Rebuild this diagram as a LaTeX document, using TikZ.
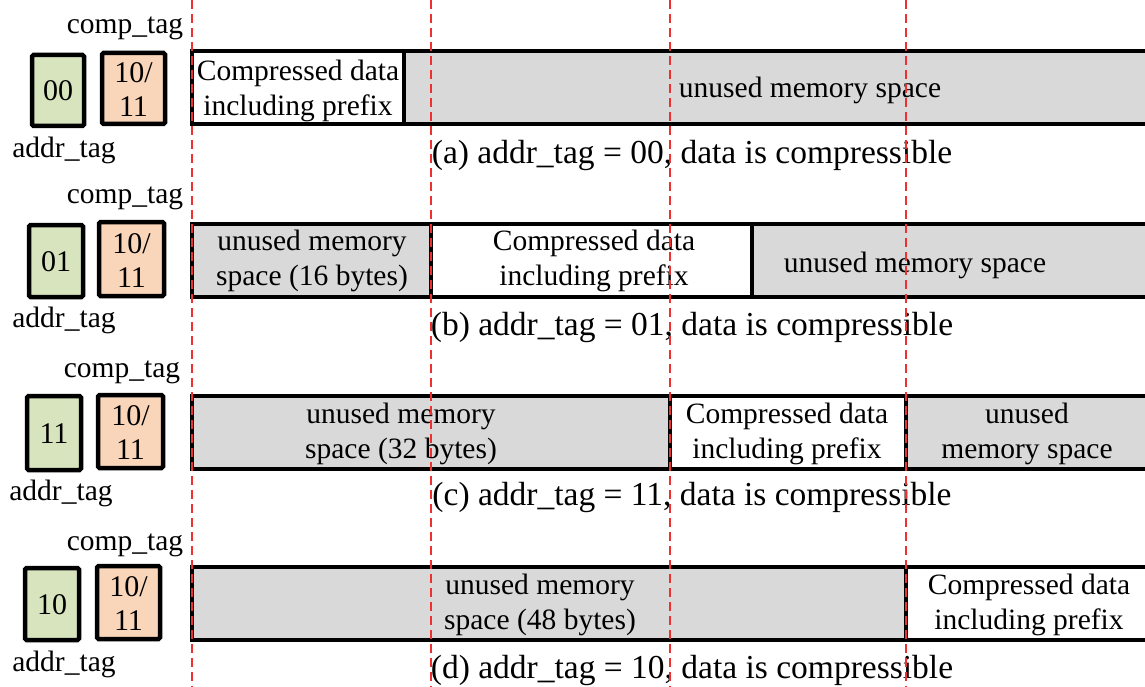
\documentclass[tikz,border=0pt]{standalone}
\usepackage{fontspec}
\setmainfont{Liberation Serif}
\definecolor{tagGreen}{HTML}{D7E4BD}
\definecolor{tagOrange}{HTML}{F9D5B9}
\definecolor{unusedGray}{HTML}{D9D9D9}
\definecolor{guideRed}{HTML}{F03030}
\begin{document}
\begin{tikzpicture}[x=1pt,y=-1pt,
  every node/.style={inner sep=0pt, outer sep=0pt, font=\fontsize{29.5}{35}\selectfont},
  txt/.style={align=center},
  tagtxt/.style={align=center, font=\fontsize{30}{34}\selectfont},
  caption/.style={font=\fontsize{33.5}{38}\selectfont},
  addrbox/.style={draw=black, line width=4.5pt, fill=tagGreen, rounded corners=1.5pt},
  compbox/.style={draw=black, line width=4.5pt, fill=tagOrange, rounded corners=1.5pt},
  freeseg/.style={draw=black, line width=4.5pt, fill=unusedGray},
  dataseg/.style={draw=black, line width=4.5pt, fill=white},
  guide/.style={draw=guideRed, line width=1.1pt, dash pattern=on 9pt off 5pt}]
\useasboundingbox (0,0) rectangle (1145,687);

% ---------- (a) ----------
\draw[addrbox] (32,55) rectangle (84,126);
\draw[compbox] (102,53) rectangle (165,124);
\node[tagtxt] (a00) at (58,91) {00};
\node[tagtxt] (acmp) at (133.5,90) {10/\\11};
\node (actag) at (125,28) {comp\_tag};
\node (aatag) at (64,150) {addr\_tag};
\draw[dataseg] (192,51) rectangle (404,124);
\draw[freeseg] (404,51) rectangle (1152,124);
\node[txt] (adata) at (298,91) {Compressed data\\including prefix};
\node (afree) at (810,90) {unused memory space};
\node[caption] (acap) at (692,155) {(a) addr\_tag = 00, data is compressible};

% ---------- (b) ----------
\draw[addrbox] (29,225) rectangle (83,297);
\draw[compbox] (99,222) rectangle (164,296);
\node[tagtxt] (b01) at (56,262) {01};
\node[tagtxt] (bcmp) at (131.5,261) {10/\\11};
\node (bctag) at (125,198) {comp\_tag};
\node (batag) at (64,320) {addr\_tag};
\draw[freeseg] (192,224) rectangle (431,297);
\draw[dataseg] (431,224) rectangle (752,297);
\draw[freeseg] (752,224) rectangle (1152,297);
\node[txt] (bfree1) at (312,261) {unused memory\\space (16 bytes)};
\node[txt] (bdata) at (594,261) {Compressed data\\including prefix};
\node (bfree2) at (915,265) {unused memory space};
\node[caption] (bcap) at (692,327) {(b) addr\_tag = 01, data is compressible};

% ---------- (c) ----------
\draw[addrbox] (27,396) rectangle (81,470);
\draw[compbox] (98,395) rectangle (163,468);
\node[tagtxt] (c11) at (54,434) {11};
\node[tagtxt] (ccmp) at (130.5,433) {10/\\11};
\node (cctag) at (122,372) {comp\_tag};
\node (catag) at (61,493) {addr\_tag};
\draw[freeseg] (192,396) rectangle (670,469);
\draw[dataseg] (670,396) rectangle (906,469);
\draw[freeseg] (906,396) rectangle (1152,469);
\node[txt] (cfree1) at (401,434) {unused memory\\space (32 bytes)};
\node[txt] (cdata) at (787,434) {Compressed data\\including prefix};
\node[txt] (cfree2) at (1027,434) {unused\\memory space};
\node[caption] (ccap) at (692,497) {(c) addr\_tag = 11, data is compressible};

% ---------- (d) ----------
\draw[addrbox] (25,568) rectangle (79,640);
\draw[compbox] (97,566) rectangle (160,639);
\node[tagtxt] (d10) at (52,605) {10};
\node[tagtxt] (dcmp) at (128.5,604) {10/\\11};
\node (dctag) at (125,545) {comp\_tag};
\node (datag) at (64,664) {addr\_tag};
\draw[freeseg] (192,567) rectangle (906,640);
\draw[dataseg] (906,567) rectangle (1152,640);
\node[txt] (dfree) at (540,605) {unused memory\\space (48 bytes)};
\node[txt] (ddata) at (1029,605) {Compressed data\\including prefix};
\node[caption] (dcap) at (692,670) {(d) addr\_tag = 10, data is compressible};

% ---------- 16-byte boundaries ----------
\coordinate (g0top) at (192,0);   \coordinate (g0bot) at (192,687);
\coordinate (g1top) at (431,0);   \coordinate (g1bot) at (431,687);
\coordinate (g2top) at (670,0);   \coordinate (g2bot) at (670,687);
\coordinate (g3top) at (906,0);   \coordinate (g3bot) at (906,687);
\draw[guide] (g0top) -- (g0bot);
\draw[guide] (g1top) -- (g1bot);
\draw[guide] (g2top) -- (g2bot);
\draw[guide] (g3top) -- (g3bot);
\end{tikzpicture}
\end{document}
